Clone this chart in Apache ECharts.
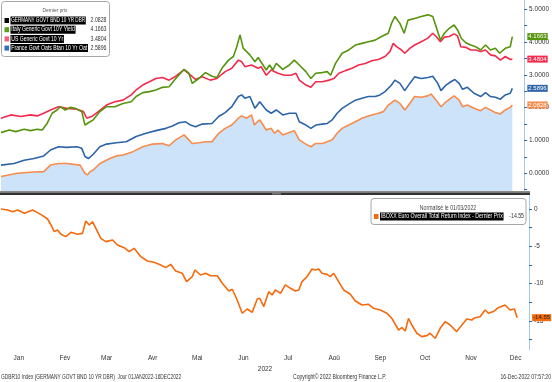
<!DOCTYPE html>
<html><head><meta charset="utf-8">
<script src="https://cdn.jsdelivr.net/npm/echarts@6/dist/echarts.min.js"></script>
<style>html,body{margin:0;padding:0;background:#fff}#c{width:552px;height:382px}</style>
</head><body><div id="c"></div>
<script>
// x values: trading days counted from 2022-01-03 (day 0)
const monthLabels = ['Jan','Fév','Mar','Avr','Mai','Jun','Jul','Aoû','Sep','Oct','Nov','Déc'];
const monthMidDays = [12,43,71,102,132,163,193,224,255,285,316,346];
const yieldLabelValues = [0,1,2,3,4,5];
const yieldTickValues = [-0.5,0,0.5,1,1.5,2,2.5,3,3.5,4,4.5,5];
const returnLabelValues = [0,-5,-10,-15];
const returnTickValues = [0,-2.5,-5,-7.5,-10,-12.5,-15,-17.5];

const germany = [[0,-0.10],[11,0.00],[22,0.04],[29,0.05],[33.6,0.25],[39,0.30],[44.7,0.30],[53.7,0.25],[57,0.00],[58.6,-0.05],[60.4,0.05],[62.6,0.10],[67.1,0.30],[73.8,0.45],[78.3,0.53],[82.8,0.56],[89.5,0.66],[96.2,0.81],[102.9,0.89],[109.6,0.91],[114.1,0.84],[118.6,1.02],[124.2,1.17],[127.5,1.02],[129.8,0.91],[134.2,0.93],[138.7,0.96],[143.2,0.96],[147.7,1.22],[152.1,1.37],[156.6,1.47],[161.1,1.68],[163.3,1.75],[166.7,1.68],[170,1.78],[172,1.47],[174,1.57],[175.6,1.63],[180,1.32],[183.4,1.37],[185.6,1.22],[187.9,1.32],[191.2,1.17],[195.7,1.24],[199,1.30],[202.4,1.02],[206.9,0.89],[210.3,0.81],[213.6,0.91],[218.1,0.91],[221.4,0.96],[224.8,1.02],[228.1,1.22],[231.5,1.37],[236,1.47],[240.5,1.57],[244.9,1.68],[248.3,1.73],[251.6,1.78],[256.1,1.83],[259.5,1.88],[262.8,2.08],[267.3,2.23],[270.7,2.13],[274,1.93],[277.4,2.13],[280.7,2.34],[285.2,2.32],[289.7,2.36],[291.9,2.42],[295.3,2.23],[298.6,2.03],[302,2.18],[305.3,2.29],[307.5,2.36],[310.9,2.23],[313.2,2.03],[316.5,2.08],[321,1.98],[325.5,1.91],[328.8,2.01],[332.2,1.93],[335.5,1.85],[338.9,1.81],[342.2,1.93],[345.6,2.01],[347,2.0828]];

const italy = [[0,1.24],[5.6,1.32],[10,1.27],[15.7,1.34],[20,1.30],[24.6,1.34],[28,1.32],[31.3,1.52],[34.7,1.83],[38,1.93],[40.3,2.03],[43.6,1.93],[47,2.01],[50.3,1.98],[54.8,1.88],[57,1.47],[59.3,1.54],[62.6,1.63],[67.1,1.88],[71.6,2.03],[77.2,2.03],[82.8,2.13],[88.4,2.18],[91.7,2.34],[96.2,2.46],[100.7,2.49],[105.1,2.54],[109.6,2.62],[114.1,2.64],[118.6,2.89],[124.2,3.17],[127.5,3.05],[129.8,2.74],[134.2,2.89],[138.7,3.07],[143.2,2.96],[146.5,2.92],[149.9,3.20],[154.4,3.45],[157.7,3.56],[160,3.86],[162.2,4.22],[164.4,3.81],[166.7,3.71],[168.9,3.61],[172.3,3.40],[174.5,3.53],[175.6,3.58],[180,3.15],[182.3,3.30],[184.5,3.15],[186.8,3.35],[191.2,3.17],[195.7,3.30],[199,3.45],[202.4,3.30],[206.9,3.10],[210.3,2.89],[213.6,3.05],[218.1,3.07],[221.4,3.10],[223.7,2.99],[227,3.35],[231.5,3.66],[236,3.76],[240.5,3.91],[244.9,3.96],[249.4,4.01],[253.9,4.06],[258.3,4.17],[262.8,4.27],[265,4.57],[267.3,4.78],[270.7,4.57],[273.6,4.27],[276.2,4.67],[280.7,4.72],[285.2,4.78],[289.7,4.83],[293,4.78],[295.3,4.47],[298.2,4.06],[300.9,4.27],[304.2,4.42],[307.5,4.52],[309.8,4.37],[312.5,4.11],[315.4,3.98],[318.8,3.91],[322.1,3.86],[325.5,3.76],[328.8,3.91],[332.2,3.76],[335.5,3.81],[338.4,3.66],[342.2,3.81],[345.6,3.86],[347,4.1663]];

const us = [[0,1.68],[6.7,1.78],[13.4,1.73],[20,1.78],[24.6,1.75],[29,1.83],[33.6,1.93],[39,2.03],[44.7,1.98],[51.5,1.95],[55.9,1.88],[58.2,1.68],[61.5,1.73],[66,1.88],[71.6,2.08],[77.2,2.18],[82.8,2.23],[88.4,2.39],[91.7,2.54],[96.2,2.69],[100.7,2.79],[105.1,2.89],[109.6,2.92],[114.1,2.84],[118.6,2.96],[124.2,3.15],[128.6,2.99],[132,2.86],[136.5,2.94],[142,2.84],[146.5,2.89],[152.1,3.10],[156.6,3.20],[161.1,3.45],[163.3,3.40],[165.5,3.25],[170,3.30],[174.5,3.20],[176.5,3.25],[180,2.99],[183.4,3.15],[187.9,3.05],[192.4,2.99],[196.8,2.99],[200.2,3.05],[202.4,2.84],[206.9,2.69],[210.3,2.62],[213.6,2.79],[218.1,2.79],[222.6,2.84],[225.9,2.89],[229.3,3.05],[233.7,3.13],[238.2,3.20],[242.7,3.30],[247.2,3.35],[251.6,3.43],[256.1,3.47],[260.6,3.56],[263.9,3.71],[266.2,3.96],[268.4,3.86],[271.8,3.76],[274,3.66],[277.4,3.81],[280.7,3.91],[285.2,4.01],[289.7,4.12],[293,4.27],[295.3,4.17],[298.2,4.01],[300.9,4.15],[304.2,4.17],[307.5,4.25],[309.8,4.19],[312,3.86],[315.4,3.84],[318.8,3.76],[322.1,3.76],[325.5,3.71],[328.8,3.76],[332.2,3.61],[335.5,3.58],[338.9,3.45],[342.2,3.56],[345.6,3.47],[347,3.4804]];

const france = [[0,0.25],[8.9,0.30],[15.7,0.40],[22.4,0.45],[29,0.53],[33.6,0.71],[39,0.81],[44.7,0.79],[51.5,0.81],[54.8,0.76],[57,0.51],[59.3,0.45],[62.6,0.58],[67.1,0.81],[71.6,0.89],[78.3,0.93],[85,0.96],[91.7,1.12],[98.4,1.22],[105.1,1.30],[111.9,1.37],[116.3,1.44],[120.8,1.54],[125.3,1.57],[128.6,1.47],[132,1.42],[136.5,1.50],[143.2,1.52],[147.7,1.73],[152.1,1.85],[156.6,2.03],[161.1,2.34],[163.3,2.39],[165.5,2.29],[168.9,2.34],[172.3,1.98],[175.6,2.18],[180,1.93],[183.4,1.83],[186.8,1.93],[191.2,1.78],[195.7,1.83],[200.2,1.83],[202.4,1.57],[206.9,1.47],[210.3,1.37],[213.6,1.47],[218.1,1.50],[221.4,1.52],[224.8,1.63],[228.1,1.83],[231.5,1.98],[236,2.11],[240.5,2.23],[244.9,2.29],[249.4,2.34],[253.9,2.34],[257.2,2.39],[260.6,2.49],[265,2.69],[267.3,2.84],[270.7,2.74],[274,2.52],[277.4,2.74],[280.7,2.94],[285.2,2.89],[289.7,2.92],[293,2.96],[296.4,2.74],[298.6,2.52],[302,2.69],[305.3,2.79],[308,2.86],[310.9,2.74],[313.2,2.56],[316.5,2.62],[321,2.44],[325.5,2.34],[328.8,2.46],[332.2,2.34],[335.5,2.32],[338.9,2.26],[342.2,2.39],[345.6,2.44],[347,2.5896]];

const iboxx = [[0,0.00],[4.5,-0.13],[7.8,-0.36],[11.2,-0.13],[15.7,-0.58],[21.3,-0.13],[24.6,-0.49],[28,-0.89],[31.3,-1.34],[33.6,-2.14],[35.8,-3.03],[38,-2.81],[40.3,-3.39],[43.6,-3.70],[47,-3.12],[51.5,-3.39],[54.8,-3.26],[57,-1.61],[59.3,-2.14],[61.5,-1.70],[63.8,-2.59],[67.1,-3.93],[70.5,-4.37],[75,-4.15],[78.3,-4.82],[82.8,-5.18],[86.1,-5.71],[89.5,-5.27],[94,-6.38],[98.4,-6.96],[102.9,-7.14],[107.4,-7.50],[110.7,-7.85],[114.1,-7.41],[117.4,-8.30],[121.9,-8.61],[124.8,-9.73],[128.6,-9.06],[130.4,-8.17],[134.2,-8.84],[137.6,-8.61],[140.9,-8.93],[145.4,-8.93],[148.8,-9.95],[153.2,-10.98],[155.5,-10.75],[158.8,-12.18],[162.2,-13.96],[165.5,-13.39],[168.9,-13.83],[172.3,-12.05],[174,-11.96],[176.7,-13.07],[180,-11.07],[182.3,-11.51],[184.5,-10.84],[187.9,-11.29],[191.2,-10.17],[194.6,-10.62],[197.9,-10.98],[200.2,-10.84],[202.4,-9.73],[205.8,-9.06],[209.1,-8.03],[211.4,-8.17],[213.6,-8.03],[215.8,-8.61],[219.2,-8.75],[221.4,-9.06],[223.7,-8.61],[227,-9.73],[230.4,-10.84],[234.9,-11.42],[238.2,-12.32],[242.7,-12.85],[247.2,-12.76],[250.5,-13.30],[255,-13.52],[259.5,-13.96],[262.8,-14.64],[267.3,-16.20],[269.5,-15.89],[271.8,-16.33],[274,-14.64],[276.2,-15.53],[279.6,-16.64],[282.9,-17.09],[286.3,-16.96],[288.5,-16.64],[291.9,-17.31],[295.3,-15.97],[298.6,-15.09],[302,-15.53],[306.4,-16.42],[309.8,-15.53],[313.2,-14.73],[316.5,-14.86],[318.8,-14.55],[322.1,-14.42],[325.5,-13.52],[327.7,-13.96],[331,-13.74],[334.4,-13.21],[338.9,-12.85],[342.2,-13.52],[345.2,-13.39],[347,-14.55]];

const FONT = "'Liberation Sans','DejaVu Sans',sans-serif";
const C_GER = '#f98b4b', C_ITA = '#55940c', C_US = '#f42a4c', C_FRA = '#2c64a9', C_IBX = '#f56a0c';

const topLegend = [
  {name:'GERMANY GOVT BND 10 YR DBR', sq:'#000000', data:germany, sx:0.71},
  {name:'Italy Generic Govt 10Y Yield', sq:'#5a9e1a', data:italy, sx:0.78},
  {name:'US Generic Govt 10 Yr', sq:'#f0607a', data:us, sx:0.78},
  {name:'France Govt Oats Btan 10 Yr Oat', sq:'#2a6fc0', data:france, sx:0.79}
];
const last = a => a[a.length-1][1];

function endLbl(bg, digits, txt){
  return {show:true, formatter:p=>p.value[1].toFixed(digits), color:txt, backgroundColor:bg,
    padding:[1,1,0,1], fontSize:6, fontFamily:FONT, offset:[7,0]};
}
function lineSeries(name, data, color, xi, digits, txt, extra){
  return Object.assign({type:'line', name, data, xAxisIndex:xi, yAxisIndex:xi, showSymbol:false,
    symbol:'none', lineStyle:{color, width:1.6}, itemStyle:{color},
    endLabel:endLbl(color, digits, txt), z:3}, extra||{});
}
// condensed text helper (scaled horizontally around its anchor)
function txt(text, x, y, sx, style){
  return {type:'text', x, y, scaleX:sx, z:101,
    style:Object.assign({text, x:0, y:0, textVerticalAlign:'middle', fill:'#333', font:'6.5px '+FONT}, style||{})};
}

const graphics = [];
// top legend
graphics.push({type:'rect', shape:{x:1.5,y:1.5,width:108,height:55,r:3}, style:{fill:'#fff',stroke:'#a6a6a6',lineWidth:1}, z:100});
graphics.push(txt('Dernier prix', 55, 10, 0.8, {textAlign:'center', fill:'#555', font:'6px '+FONT}));
topLegend.forEach((r,i)=>{
  const y = 20.5 + i*9.2;
  graphics.push({type:'rect', shape:{x:4.5,y:y-2.5,width:4.5,height:5}, style:{fill:r.sq}, z:101});
  graphics.push(txt(r.name, 10.5, y, r.sx, {fill:'#fff', backgroundColor:'#000', padding:[1,1,0,1]}));
  graphics.push(txt(last(r.data).toFixed(4), 106.5, y, 0.8, {textAlign:'right'}));
});
// bottom legend
graphics.push({type:'rect', shape:{x:371,y:198.5,width:155,height:26,r:3}, style:{fill:'#fff',stroke:'#a6a6a6',lineWidth:1}, z:100});
graphics.push(txt('Normalisé le 01/03/2022', 448, 208, 0.8, {textAlign:'center', fill:'#444'}));
graphics.push({type:'rect', shape:{x:374,y:214,width:4.5,height:5}, style:{fill:C_IBX}, z:101});
graphics.push(txt('IBOXX Euro Overall Total Return Index - Dernier Prix', 380, 216.5, 0.8, {fill:'#fff', backgroundColor:'#000', padding:[1,1,0,1]}));
graphics.push(txt(last(iboxx).toFixed(2), 524, 216.5, 0.8, {textAlign:'right'}));
// panel separator
graphics.push({type:'rect', shape:{x:0,y:191,width:530,height:1.5}, style:{fill:'#8a8a8a'}, z:50});
graphics.push({type:'rect', shape:{x:0,y:192.5,width:530,height:2.5}, style:{fill:'#333'}, z:50});
graphics.push({type:'rect', shape:{x:272,y:192.5,width:9,height:2}, style:{fill:'#777'}, z:51});
// footer
graphics.push(txt('GDBR10 Index (GERMANY GOVT BND 10 YR DBR)  Jour 01JAN2022-16DEC2022', 1, 377, 0.74));
graphics.push(txt('Copyright© 2022 Bloomberg Finance L.P.', 293, 377, 0.78));
graphics.push(txt('16-Dec-2022 07:57:20', 551, 377, 0.78, {textAlign:'right'}));

const axisColor = '#a8c8ea', tickColor = '#2d66b0';
const chart = echarts.init(document.getElementById('c'), null, {renderer:'canvas'});
chart.setOption({
  animation:false,
  backgroundColor:'#fff',
  textStyle:{fontFamily:FONT},
  grid:[{left:1,top:0,width:528,height:191},{left:1,top:196,width:528,height:154}],
  xAxis:[
    {gridIndex:0, type:'value', min:0, max:355, show:false, axisLine:{onZero:false}},
    {gridIndex:1, type:'value', min:0, max:355, axisLine:{show:false,onZero:false}, axisTick:{show:false}, splitLine:{show:false},
     axisLabel:{customValues:monthMidDays, formatter:v=>monthLabels[monthMidDays.indexOf(v)], color:'#333', fontSize:6.5, margin:5, fontFamily:FONT},
     name:'2022', nameLocation:'middle', nameGap:16, nameTextStyle:{fontSize:6.5, color:'#333', fontFamily:FONT}}
  ],
  yAxis:[
    {gridIndex:0, type:'value', position:'right', min:-0.54, max:5.283, splitLine:{show:false},
     axisLine:{show:true, onZero:false, lineStyle:{color:axisColor, width:1}},
     axisTick:{show:true, customValues:yieldTickValues, length:3, lineStyle:{color:tickColor, width:1}},
     axisLabel:{customValues:yieldLabelValues, formatter:v=>v.toFixed(4), fontSize:6.5, color:'#333', margin:5, fontFamily:FONT}},
    {gridIndex:1, type:'value', position:'right', min:-18.88, max:1.74, splitLine:{show:false},
     axisLine:{show:true, onZero:false, lineStyle:{color:axisColor, width:1}},
     axisTick:{show:true, customValues:returnTickValues, length:3, lineStyle:{color:tickColor, width:1}},
     axisLabel:{customValues:returnLabelValues, formatter:v=>String(v), fontSize:6.5, color:'#333', margin:5, fontFamily:FONT}}
  ],
  series:[
    lineSeries('GERMANY GOVT BND 10 YR DBR', germany, C_GER, 0, 4, '#fff', {areaStyle:{color:'#cce3fa', opacity:1, origin:'start'}, z:2}),
    lineSeries('France Govt Oats Btan 10 Yr Oat', france, C_FRA, 0, 4, '#fff'),
    lineSeries('US Generic Govt 10 Yr', us, C_US, 0, 4, '#fff'),
    lineSeries('Italy Generic Govt 10Y Yield', italy, C_ITA, 0, 4, '#fff'),
    lineSeries('IBOXX Euro Overall Total Return Index - Dernier Prix', iboxx, C_IBX, 1, 2, '#222')
  ],
  graphic:graphics
});
</script></body></html>
